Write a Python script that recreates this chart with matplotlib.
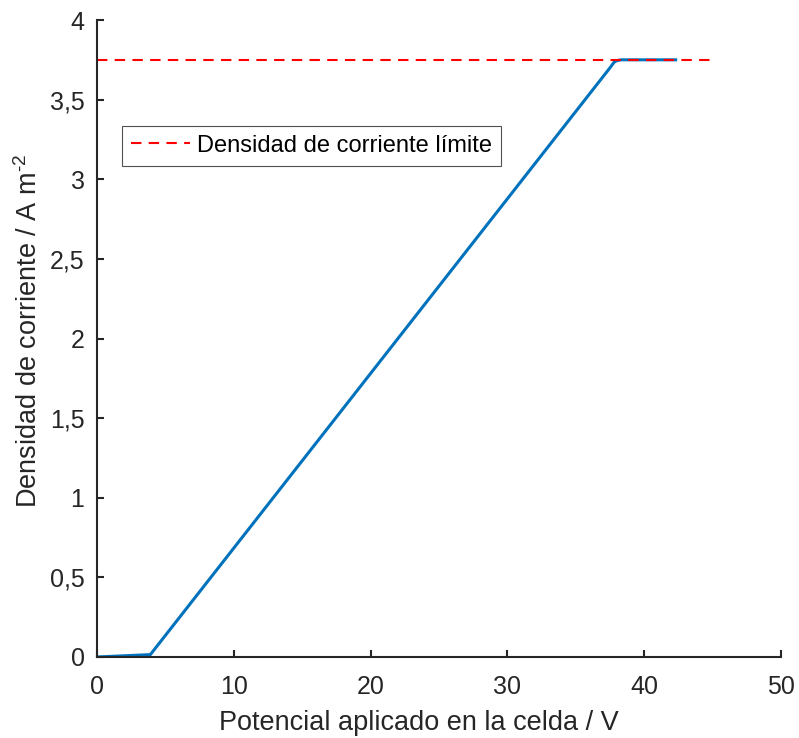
import matplotlib

matplotlib.use("Agg")
import matplotlib.pyplot as plt
from matplotlib.ticker import FuncFormatter

# Polarisation curve of the cell: applied potential (V) vs. current density (A m^-2)
potential = [0.0, 3.9, 37.5, 37.8, 38.0, 38.3, 42.3]
current_density = [0.0, 0.015, 3.70, 3.735, 3.745, 3.75, 3.75]

# Limiting current density
limit_x = [0.0, 45.0]
limit_y = [3.75, 3.75]

x_ticks = [0, 10, 20, 30, 40, 50]
y_ticks = [0, 0.5, 1, 1.5, 2, 2.5, 3, 3.5, 4]

TEXT = "#262626"
plt.rcParams["font.family"] = ["Liberation Sans", "DejaVu Sans"]
plt.rcParams["mathtext.fontset"] = "custom"
plt.rcParams["mathtext.rm"] = "Liberation Sans"
plt.rcParams["mathtext.it"] = "Liberation Sans"

fig = plt.figure(figsize=(7.99, 7.38), dpi=100)
ax = fig.add_axes([97 / 799, 1 - 657 / 738, 684 / 799, 637 / 738])

ax.plot(potential, current_density, color="#0072BD", lw=2.2, solid_joinstyle="round")
ax.plot(limit_x, limit_y, color="#FF0000", lw=1.5, dashes=(5, 3.5),
        label="Densidad de corriente límite")

ax.set_xlim(0, 50)
ax.set_ylim(0, 4)
ax.set_xticks(x_ticks)
ax.set_yticks(y_ticks)
ax.yaxis.set_major_formatter(FuncFormatter(lambda v, _: f"{v:g}".replace(".", ",")))

for side in ("top", "right"):
    ax.spines[side].set_visible(False)
for side in ("left", "bottom"):
    ax.spines[side].set_linewidth(1.5)
    ax.spines[side].set_color(TEXT)
ax.tick_params(direction="in", length=5, width=1.5, colors=TEXT,
               labelsize=18, labelcolor=TEXT)
ax.tick_params(axis="x", pad=13)
ax.tick_params(axis="y", pad=9)

ax.set_xlabel("Potencial aplicado en la celda / V", fontsize=19.5, color=TEXT)
ax.set_ylabel(r"Densidad de corriente / A m$^{\text{-}2}$", fontsize=19.5, color=TEXT,
              labelpad=5)
ax.xaxis.set_label_coords(0.47, -0.083)
ax.yaxis.label.set_y(0.512)

leg = ax.legend(loc="upper left", bbox_to_anchor=(0.036, 0.834), fontsize=17,
                frameon=True, fancybox=False, edgecolor=TEXT, handlelength=2.5,
                handletextpad=0.3, borderpad=0.38, borderaxespad=0)
leg.get_frame().set_linewidth(0.8)

fig.savefig("out.png", dpi=100)
